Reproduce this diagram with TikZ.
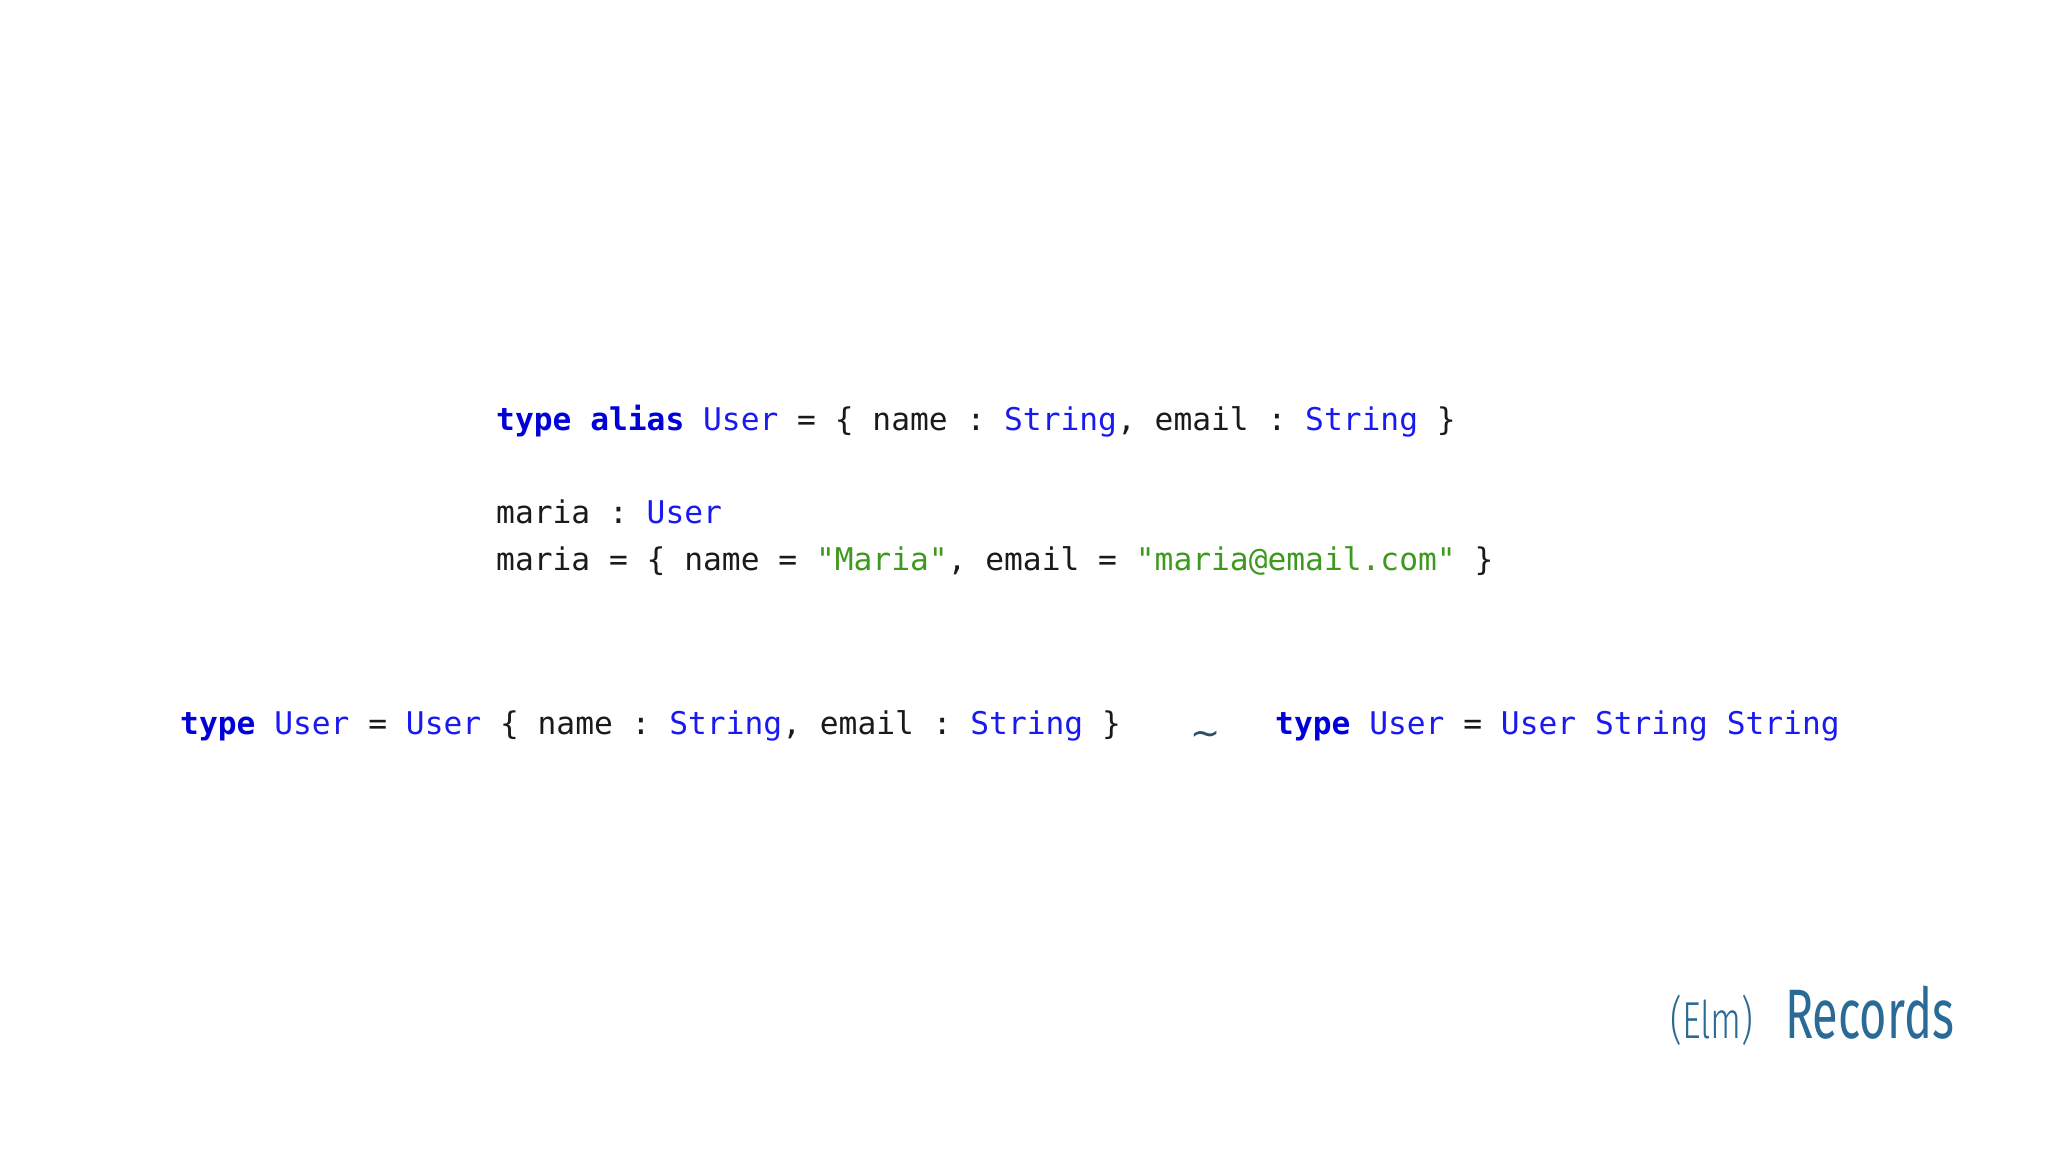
\documentclass[tikz,border=0pt]{standalone}
\usepackage{fontspec}
\setmonofont{DejaVu Sans Mono}
\newfontfamily\titlefont{Fira Sans}
\newfontfamily\titlelight{Fira Sans Light}
\newfontfamily\symfont{DejaVu Sans}
\definecolor{kwc}{HTML}{0000D8}
\definecolor{tyc}{HTML}{1A1AF0}
\definecolor{stc}{HTML}{3E9A1E}
\definecolor{txc}{HTML}{1A1A1A}
\definecolor{ttc}{HTML}{2A6A96}
\definecolor{tlc}{HTML}{2E4E66}
\newcommand{\kw}[1]{\textcolor{kwc}{\bfseries #1}}
\newcommand{\ty}[1]{\textcolor{tyc}{#1}}
\newcommand{\st}[1]{\textcolor{stc}{#1}}
\begin{document}
\begin{tikzpicture}[x=1pt,y=1pt,
  code/.style={anchor=base west,inner sep=0pt,font=\ttfamily\fontsize{31.25}{31.25}\selectfont,text=txc}]
\fill[white] (0,0) rectangle (2048,1152);
\useasboundingbox (0,0) rectangle (2048,1152);
\node[code] (l1) at (496,721) {\kw{type alias} \ty{User} = \{ name : \ty{String}, email : \ty{String} \}};
\node[code] (l2) at (496,628) {maria : \ty{User}};
\node[code] (l3) at (496,581) {maria = \{ name = \st{"Maria"}, email = \st{"maria@email.com"} \}};
\node[code] (l4) at (180,417) {\kw{type} \ty{User} = \ty{User} \{ name : \ty{String}, email : \ty{String} \}};
\node[anchor=center,inner sep=0pt,text=tlc,font=\symfont\fontsize{36}{36}\selectfont] (tl) at (1206,414) {∼};
\node[code] (l5) at (1275,417) {\kw{type} \ty{User} = \ty{User} \ty{String} \ty{String}};
\node[anchor=base west,inner sep=0pt,text=ttc] (elm) at (1670,114) {\scalebox{0.7}[1]{\titlelight\fontsize{52}{52}\selectfont (Elm)}};
\node[anchor=base west,inner sep=0pt,text=ttc,font=\titlefont\fontsize{70}{70}\selectfont] (rec) at (1785,114) {\scalebox{0.67}[1]{Records}};
\end{tikzpicture}
\end{document}
